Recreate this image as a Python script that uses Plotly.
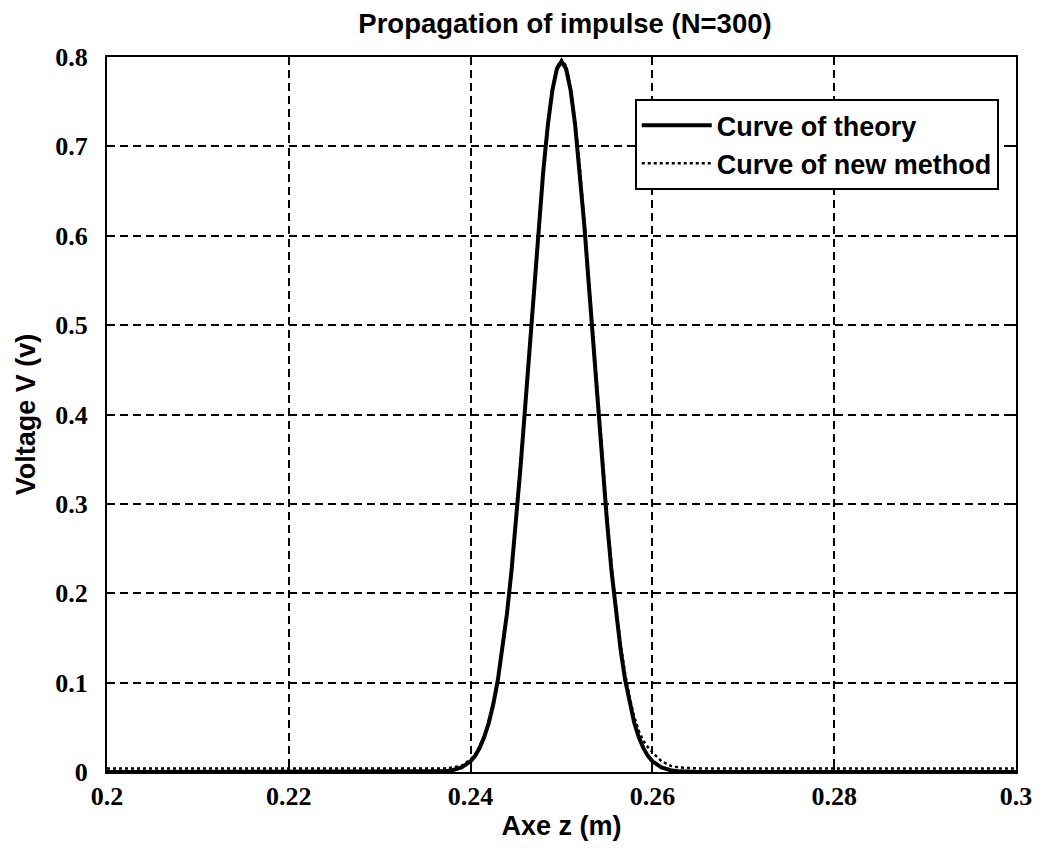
import plotly.graph_objects as go

# z positions (m)
z = [0.200, 0.210, 0.220, 0.230, 0.235, 0.237, 0.238, 0.239, 0.240, 0.2405, 0.241, 0.2415,
     0.242, 0.2425, 0.243, 0.2435, 0.244, 0.2445, 0.245, 0.2455, 0.246, 0.2465, 0.247,
     0.2475, 0.248, 0.2485, 0.249, 0.2495, 0.250, 0.2505, 0.251, 0.2515, 0.252, 0.2525,
     0.253, 0.2535, 0.254, 0.2545, 0.255, 0.2555, 0.256, 0.2565, 0.257, 0.2575, 0.258,
     0.2585, 0.259, 0.2595, 0.260, 0.261, 0.262, 0.263, 0.265, 0.270, 0.280, 0.290, 0.300]

# Curve of theory (V)
v_theory = [0.000, 0.000, 0.000, 0.000, 0.000, 0.0007, 0.002, 0.005, 0.012, 0.018, 0.027,
            0.039, 0.055, 0.076, 0.103, 0.137, 0.177, 0.225, 0.281, 0.342, 0.408, 0.477,
            0.546, 0.613, 0.673, 0.724, 0.763, 0.787, 0.795, 0.787, 0.763, 0.724, 0.673,
            0.613, 0.546, 0.477, 0.408, 0.342, 0.281, 0.225, 0.177, 0.137, 0.103, 0.076,
            0.055, 0.039, 0.027, 0.018, 0.012, 0.005, 0.002, 0.0007, 0.000, 0.000, 0.000,
            0.000, 0.000]

# Curve of new method (V)
v_new = [0.004, 0.004, 0.004, 0.004, 0.004, 0.004, 0.005, 0.007, 0.014, 0.020, 0.029,
         0.041, 0.057, 0.078, 0.105, 0.139, 0.179, 0.227, 0.283, 0.344, 0.410, 0.479,
         0.548, 0.615, 0.675, 0.726, 0.765, 0.789, 0.797, 0.790, 0.766, 0.728, 0.678,
         0.618, 0.552, 0.483, 0.414, 0.348, 0.288, 0.232, 0.184, 0.144, 0.110, 0.083,
         0.062, 0.046, 0.035, 0.028, 0.022, 0.012, 0.007, 0.005, 0.004, 0.004, 0.004,
         0.004, 0.004]

x_ticks = [0.2, 0.22, 0.24, 0.26, 0.28, 0.3]
x_tick_text = ["0.2", "0.22", "0.24", "0.26", "0.28", "0.3"]
y_ticks = [0, 0.1, 0.2, 0.3, 0.4, 0.5, 0.6, 0.7, 0.8]
y_tick_text = ["0", "0.1", "0.2", "0.3", "0.4", "0.5", "0.6", "0.7", "0.8"]

sans = dict(family="Liberation Sans, Arial, sans-serif", color="black", weight="bold")
serif = dict(family="Liberation Serif, Times New Roman, serif", color="black", size=26, weight="bold")

fig = go.Figure()
fig.add_trace(go.Scatter(x=z, y=v_theory, mode="lines", name="Curve of theory",
                         line=dict(color="black", width=4)))
fig.add_trace(go.Scatter(x=z, y=v_new, mode="lines", name="Curve of new method",
                         line=dict(color="black", width=2.5, dash="dot")))

axis_common = dict(
    showline=True, linecolor="black", linewidth=2, mirror="ticks",
    ticks="inside", ticklen=8, tickcolor="black", tickwidth=1.5,
    showgrid=True, gridcolor="black", gridwidth=1.8, griddash="8px,5px",
    zeroline=False, tickfont=serif,
)

fig.update_xaxes(range=[0.2, 0.3], tickvals=x_ticks, ticktext=x_tick_text,
                 title=dict(text="Axe z (m)", font=dict(**sans, size=27), standoff=6),
                 **axis_common)
fig.update_yaxes(range=[0, 0.8], tickvals=y_ticks, ticktext=y_tick_text,
                 title=dict(text="Voltage V (v)", font=dict(**sans, size=27), standoff=12),
                 ticklabelstandoff=12,
                 **axis_common)

fig.update_layout(
    width=1044, height=848,
    margin=dict(l=107, r=21, t=57, b=76),
    paper_bgcolor="white", plot_bgcolor="white",
    title=dict(text="Propagation of impulse (N=300)", font=dict(**sans, size=27.5),
               x=(107 + 1023) / 2 / 1044, xanchor="center",
               y=1 - 23 / 848, yanchor="middle"),
    showlegend=True,
    legend=dict(x=0.981, y=0.941, xanchor="right", yanchor="top",
                bgcolor="white", bordercolor="black", borderwidth=2,
                font=dict(**sans, size=27), tracegroupgap=0, itemwidth=70),
)

fig.write_html("out.html")
